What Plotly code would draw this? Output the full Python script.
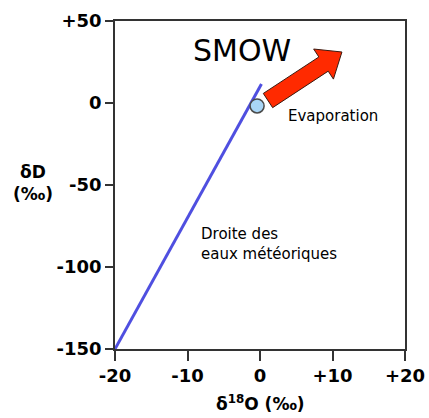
import math
import plotly.graph_objects as go

# meteoric water line, delta18O vs deltaD (permil)
gmwl_x = [-20, 0.2]
gmwl_y = [-150, 11.6]

smow_x = [-0.4]
smow_y = [-1.8]

x_ticks = [-20, -10, 0, 10, 20]
x_labels = ['-20', '-10', '0', '+10', '+20']
y_ticks = [-150, -100, -50, 0, 50]
y_labels = ['-150', '-100', '-50', '0', '+50']

# evaporation arrow: tail and tip in data units
arrow_tail = (1.1, 1.5)
arrow_tip = (11.3, 31.1)

W, H = 429, 418
M = dict(l=115, r=24, t=21, b=69)
XR = (-20, 20)
YR = (-150, 50)
pw = W - M['l'] - M['r']
ph = H - M['t'] - M['b']
sx = pw / (XR[1] - XR[0])
sy = ph / (YR[1] - YR[0])


def arrow_path(tail, tip, shaft=8.5, head_w=18, head_l=22):
    # build the polygon in pixel space so the arrow keeps its shape
    tx, ty = tail[0] * sx, tail[1] * sy
    hx, hy = tip[0] * sx, tip[1] * sy
    dx, dy = hx - tx, hy - ty
    L = math.hypot(dx, dy)
    ux, uy = dx / L, dy / L
    nx, ny = -uy, ux
    bx, by = hx - ux * head_l, hy - uy * head_l
    pts = [
        (tx + nx * shaft, ty + ny * shaft),
        (bx + nx * shaft, by + ny * shaft),
        (bx + nx * head_w, by + ny * head_w),
        (hx, hy),
        (bx - nx * head_w, by - ny * head_w),
        (bx - nx * shaft, by - ny * shaft),
        (tx - nx * shaft, ty - ny * shaft),
    ]
    pts = [(px / sx, py / sy) for px, py in pts]
    return 'M ' + ' L '.join(f'{a:.3f},{b:.3f}' for a, b in pts) + ' Z'


fig = go.Figure()
fig.add_trace(go.Scatter(x=gmwl_x, y=gmwl_y, mode='lines',
                         line=dict(color='#4f4fe0', width=3), hoverinfo='skip'))
fig.add_trace(go.Scatter(x=smow_x, y=smow_y, mode='markers',
                         marker=dict(size=14, color='#a9d6f7',
                                     line=dict(color='#4a4a4a', width=1.5))))

fig.add_shape(type='path', path=arrow_path(arrow_tail, arrow_tip),
              xref='x', yref='y', fillcolor='#ff2a00',
              line=dict(color='#3a1a10', width=1))

font = 'DejaVu Sans'
fig.add_annotation(x=-2.5, y=32, text='SMOW', showarrow=False,
                   font=dict(family=font, size=30, color='black'))
fig.add_annotation(x=3.6, y=-8, text='Evaporation', showarrow=False,
                   xanchor='left', font=dict(family=font, size=15, color='black'))
fig.add_annotation(x=-8.4, y=-86, text='Droite des<br>eaux météoriques',
                   showarrow=False, xanchor='left', align='left',
                   font=dict(family=font, size=15, color='black'))
fig.add_annotation(xref='paper', yref='paper', x=-0.283, y=0.506,
                   xanchor='center', text='δD<br>(‰)', showarrow=False,
                   font=dict(family=font, size=17, color='black', weight='bold'))
fig.add_annotation(x=0, xref='x', yref='paper', y=-0.205, yanchor='bottom',
                   xanchor='center', text='δ<sup>18</sup>O (‰)', showarrow=False,
                   font=dict(family=font, size=17, color='black', weight='bold'))

axis_common = dict(showline=True, linecolor='#333', linewidth=1.5, mirror=True,
                   ticks='outside', tickcolor='#333', tickwidth=1.5,
                   showgrid=False, zeroline=False, automargin=False,
                   tickfont=dict(family=font, size=18, color='black', weight='bold'))

fig.update_xaxes(range=XR, tickvals=x_ticks, ticktext=x_labels, ticklen=10,
                 **axis_common)
fig.update_yaxes(range=YR, tickvals=y_ticks, ticktext=y_labels, ticklen=8,
                 **axis_common)

fig.update_layout(width=W, height=H, margin=M, autosize=False,
                  showlegend=False, plot_bgcolor='white', paper_bgcolor='white')

# drop the browser's default body margin so the figure sits at (0, 0)
fig.write_html("out.html", config={'displayModeBar': False},
               post_script="document.body.style.margin='0px';")
